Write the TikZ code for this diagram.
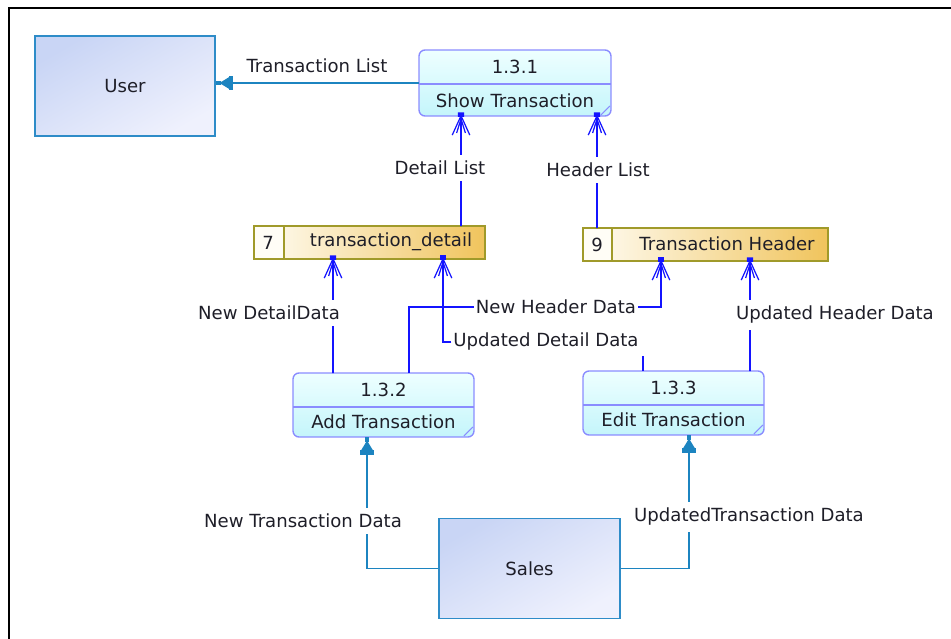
\documentclass[tikz,border=0pt]{standalone}
\usepackage{fontspec}
\setmainfont{DejaVu Sans}
\usetikzlibrary{arrows.meta, calc}

\definecolor{procline}{HTML}{8A8CFF}
\definecolor{procA}{HTML}{EEFFFF}
\definecolor{procB}{HTML}{C4F5FB}
\definecolor{storeline}{HTML}{A09A2A}
\definecolor{storeA}{HTML}{FFFDF6}
\definecolor{storeB}{HTML}{F0C45C}
\definecolor{extline}{HTML}{2E8CC8}
\definecolor{extA}{HTML}{C9D5F5}
\definecolor{extB}{HTML}{EFF1FD}
\definecolor{flowblue}{HTML}{1414FF}
\definecolor{extflowc}{HTML}{1C84C0}
\definecolor{txt}{HTML}{1E1E28}

\begin{document}
\begin{tikzpicture}[x=0.02cm, y=-0.02cm,
    lbl/.style={font=\fontsize{10.3}{12}\selectfont, text=txt, inner sep=1pt},
    tag/.style={lbl, fill=white, inner xsep=2pt, inner ysep=3.5pt},
    proc/.style={draw=procline, line width=0.8pt, rounded corners=0.12cm,
        top color=procA, bottom color=procB, inner sep=0pt, outer sep=0pt},
    store/.style={draw=storeline, line width=0.8pt, left color=storeA,
        right color=storeB, minimum height=0.66cm, inner sep=0pt, outer sep=0pt},
    ext/.style={draw=extline, line width=1pt, top color=extA, bottom color=extB,
        shading angle=30, minimum width=3.6cm, minimum height=2cm, inner sep=0pt},
    flow/.style={draw=flowblue, line width=0.9pt,
        -{Straight Barb[length=11pt,width=10pt,line width=0.7pt,sep=-11pt]Straight Barb[length=8pt,width=5pt,line width=0.7pt]Square[length=2.5pt,width=3.5pt,sep=-2pt]}},
    extflow/.style={draw=extflowc, line width=1pt,
        -{Rectangle[length=2.5pt,width=8.5pt,sep=-0.5pt]Triangle[length=6pt,width=7pt,sep=-1pt]Rectangle[length=3pt,width=2.4pt]}}]
    \useasboundingbox (0,0) rectangle (951,639);
    \draw[line width=1.3pt] (9,639) -- (9,8) -- (951,8);

    % External entities
    \node[ext] (user) at (125,86) {};
    \node[lbl] (usertxt) at (user) {User};
    \node[ext, minimum width=3.62cm] (sales) at (529.5,568.5) {};
    \node[lbl] (salestxt) at (sales) {Sales};

    % Processes
    \node[proc, minimum width=3.84cm, minimum height=1.32cm] (p131) at (515,83) {};
    \node[proc, minimum width=3.62cm, minimum height=1.28cm] (p132) at (383.5,405) {};
    \node[proc, minimum width=3.62cm, minimum height=1.28cm] (p133) at (673.5,403) {};
    \foreach \p/\id/\nm in {p131/1.3.1/Show Transaction, p132/1.3.2/Add Transaction, p133/1.3.3/Edit Transaction} {
        \draw[procline, line width=0.8pt] ($(\p.north west)+(0,34)$) -- ($(\p.north east)+(0,34)$);
        \draw[procline, line width=0.6pt] ($(\p.south east)+(-10,-1)$) -- ($(\p.south east)+(-1,-10)$);
        \node[lbl] (\p id) at ($(\p.north)+(0,17)$) {\id};
        \node[lbl] (\p nm) at ($(\p.south)+(0,-15)$) {\nm};
    }

    % Data stores
    \node[store, minimum width=4.62cm] (s7) at (369.5,242.5) {};
    \node[store, minimum width=4.9cm] (s9) at (705.5,244.5) {};
    \filldraw[fill=storeA, draw=storeline, line width=0.8pt] (s7.north west) rectangle ($(s7.south west)+(30,0)$);
    \filldraw[fill=storeA, draw=storeline, line width=0.8pt] (s9.north west) rectangle ($(s9.south west)+(29,0)$);
    \node[lbl] (s7id) at ($(s7.west)+(14,0)$) {7};
    \node[lbl] (s7nm) at (391,242) {transaction\_detail};
    \node[lbl] (s9id) at ($(s9.west)+(14,0)$) {9};
    \node[lbl] (s9nm) at (727,244) {Transaction Header};

    % Flows to and from the entities
    \draw[extflow] (p131.west) -- (p131.west -| user.east);
    \node[lbl] (tl) at (317,66) {Transaction List};
    \draw[extflow] (sales.west) -| ($(p132.south west)+(74,0)$);
    \node[tag] (ntd) at (303,521) {New Transaction Data};
    \draw[extflow] (sales.east) -| ($(p133.south west)+(106,0)$);
    \node[tag] (utd) at (749,517) {UpdatedTransaction Data};

    % Flows between processes and stores
    \draw[flow] ($(s7.north east)+(-24,0)$) -- ($(p131.south west)+(42,0)$);
    \node[tag] (dl) at (440,168) {Detail List};
    \draw[flow] ($(s9.north west)+(14,0)$) -- ($(p131.south west)+(178,0)$);
    \node[tag] (hl) at (598,170) {Header List};
    \draw[flow] ($(p132.north west)+(40,0)$) -- ($(s7.south west)+(79,0)$);
    \node[tag] (ndd) at (269,313) {New DetailData};
    \node[lbl] (nhd) at (556,307) {New Header Data};
    \draw[flowblue, line width=0.9pt] ($(p132.north west)+(116,0)$) |- (nhd.west);
    \draw[flow] (nhd.east) -| ($(s9.south west)+(78,0)$);
    \node[lbl] (udd) at (546,342) {Updated Detail Data};
    \draw[flowblue, line width=0.9pt] ($(p133.north west)+(60,0)$) -- ++(0,-15);
    \draw[flow] (udd.west) -| ($(s7.south west)+(189,0)$);
    \draw[flow] ($(p133.north west)+(167,0)$) -- ($(s9.south west)+(167,0)$);
    \node[tag] (uhd) at (835,315) {Updated Header Data};
\end{tikzpicture}
\end{document}
